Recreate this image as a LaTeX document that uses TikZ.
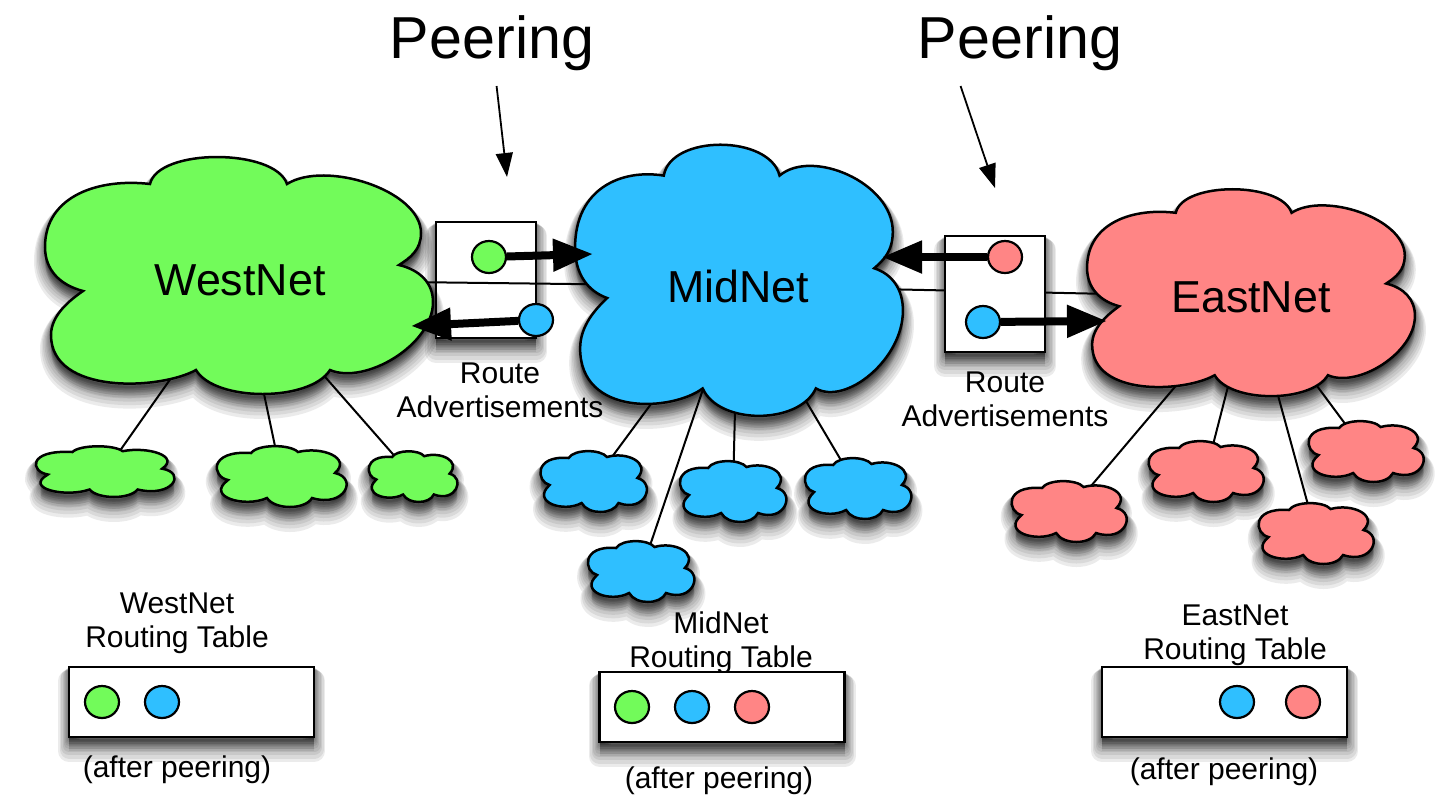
\documentclass[tikz,border=0pt]{standalone}
\usepackage{fontspec}
\setmainfont{Liberation Sans}
\usetikzlibrary{arrows.meta,shapes.geometric}
\pgfdeclarelayer{boxes}
\pgfdeclarelayer{links}
\pgfsetlayers{boxes,links,main}
\definecolor{westgreen}{HTML}{72FB5A}
\definecolor{midblue}{HTML}{2FBFFF}
\definecolor{eastred}{HTML}{FF8585}
\tikzset{
  softlayer/.style 2 args={preaction={draw=black,fill=black,opacity=0.08,line width=#1,line join=round,transform canvas={yshift=#2}}},
  softshadow/.style={softlayer={11pt}{-7pt},softlayer={9.5pt}{-6pt},softlayer={8pt}{-5pt},softlayer={6.5pt}{-4.2pt},softlayer={5pt}{-3.4pt},softlayer={4pt}{-2.6pt},softlayer={3pt}{-2pt},softlayer={2pt}{-1.4pt},softlayer={1pt}{-0.8pt}},
  cloudline/.style={draw=black,line width=1.25pt,line join=miter,softshadow},
  netname/.style={font=\fontsize{22.4}{26}\selectfont,inner sep=0pt},
  peername/.style={font=\fontsize{29.6}{34}\selectfont,inner sep=0pt},
  caption/.style={font=\fontsize{15}{17}\selectfont,align=center,inner sep=0pt},
  peerbox/.style={draw=black,fill=white,line width=1.25pt,minimum width=50pt,minimum height=58pt,inner sep=0pt,softshadow},
  tablebox/.style={draw=black,fill=white,line width=1.25pt,minimum width=122.5pt,minimum height=35pt,inner sep=0pt,softshadow},
  route/.style={ellipse,draw=black,line width=1.1pt,minimum width=17pt,minimum height=16pt,inner sep=0pt},
  link/.style={draw=black,line width=1pt},
  fatarrow/.style={draw=black,line width=4pt,-{Triangle[length=20pt,width=15.5pt]}},
  peerarrow/.style={draw=black,line width=0.9pt,-{Triangle[length=12pt,width=8.5pt]}}
}
\newcommand{\bigcloud}[7]{
  \begin{scope}[shift={#3},xscale=#4,yscale=#5,shift={(-239,-277)}]
  \draw[cloudline,fill=#6] (150,184) .. controls (158,148) and (275,148) .. (287,184)
    .. controls (325,160) and (421,190) .. (421,233)
    .. controls (421,250) and (410,258) .. (399,265)
    .. controls (420,270) and (433,283) .. (433,302)
    .. controls (433,345) and (365,385) .. (330,370)
    .. controls (310,402) and (215,402) .. (196,370)
    .. controls (160,390) and (51,395) .. (51,335)
    .. controls (51,315) and (70,300) .. (83,291)
    .. controls (60,285) and (45,270) .. (45,247)
    .. controls (45,195) and (100,178) .. (150,184) -- cycle;
  \end{scope}
  \node[netname] (#1) at #2 {#7};
}
\newcommand{\smallcloud}[5]{
  \begin{scope}[shift={#2},xscale=#3,yscale=#4,shift={(-281.5,-477)}]
  \draw[cloudline,fill=#5] (251,453) .. controls (258,444) and (290,444) .. (298,452)
    .. controls (322,446) and (352,458) .. (335,473)
    .. controls (358,478) and (345,508) .. (312,498)
    .. controls (305,510) and (275,510) .. (267,498)
    .. controls (245,508) and (205,497) .. (228,480)
    .. controls (212,477) and (208,450) .. (251,453) -- cycle;
  \end{scope}
  \node[inner sep=0pt,minimum size=10pt] (#1) at #2 {};
}
\begin{document}
\begin{tikzpicture}[x=0.5pt,y=-0.5pt]
\useasboundingbox (0,0) rectangle (1456,794);
\begin{pgfonlayer}{boxes}
\node[peerbox] (westbox) at (486,280) {};
\end{pgfonlayer}
\bigcloud{west}{(240,280)}{(239,277)}{1}{1}{westgreen}{WestNet}
\bigcloud{mid}{(738,286)}{(739,282)}{0.845}{1.144}{midblue}{MidNet}
\bigcloud{east}{(1251,297)}{(1251,294)}{0.845}{0.873}{eastred}{EastNet}
\smallcloud{westa}{(105,472)}{1.068}{0.833}{westgreen}
\smallcloud{westb}{(281.5,477)}{1}{1}{westgreen}
\smallcloud{westc}{(413,477)}{0.684}{0.833}{westgreen}
\smallcloud{mida}{(593.5,482)}{0.82}{1}{midblue}
\smallcloud{midb}{(733,492)}{0.82}{1}{midblue}
\smallcloud{midc}{(858,489)}{0.82}{1}{midblue}
\smallcloud{midd}{(641,572)}{0.82}{1}{midblue}
\smallcloud{easta}{(1069,512)}{0.887}{1}{eastred}
\smallcloud{eastb}{(1206,472)}{0.887}{1}{eastred}
\smallcloud{eastc}{(1366,452)}{0.887}{1}{eastred}
\smallcloud{eastd}{(1316,534)}{0.887}{1}{eastred}
\begin{pgfonlayer}{links}
\draw[link] (west.center) -- (mid.center);
\draw[link] (mid.center) -- (east.center);
\foreach \kid in {westa,westb,westc} \draw[link] (west.center) -- (\kid.center);
\foreach \kid in {mida,midb,midc,midd} \draw[link] (mid.center) -- (\kid.center);
\foreach \kid in {easta,eastb,eastc,eastd} \draw[link] (east.center) -- (\kid.center);
\end{pgfonlayer}
\node[peerbox] (eastbox) at (995,294) {};
\node[route,fill=westgreen] (boxgreen) at (489,257) {};
\node[route,fill=midblue] (boxblue) at (536,320) {};
\node[route,fill=eastred] (boxred) at (1005,257) {};
\node[route,fill=midblue] (boxbluetwo) at (983,322) {};
\coordinate (greentip) at (593,254);
\coordinate (bluetip) at (411,326);
\coordinate (redtip) at (882,257);
\coordinate (bluetwotip) at (1107,321);
\draw[fatarrow] (boxgreen) -- (greentip);
\draw[fatarrow] (boxblue) -- (bluetip);
\draw[fatarrow] (boxred) -- (redtip);
\draw[fatarrow] (boxbluetwo) -- (bluetwotip);
\node[peername] (peerwest) at (492,43) {Peering};
\node[peername] (peereast) at (1020,43) {Peering};
\coordinate (peerwesttip) at (507,177);
\coordinate (peereasttip) at (995,188);
\draw[peerarrow] ([shift={(107,15)}]peerwest.south west) -- (peerwesttip);
\draw[peerarrow] ([shift={(43,15)}]peereast.south west) -- (peereasttip);
\node[caption] (adwest) at (500,390) {Route\\Advertisements};
\node[caption] (adeast) at (1005,399) {Route\\Advertisements};
\node[caption] (tabwest) at (177,623) {WestNet\\Routing Table};
\node[caption] (tabmid) at (721,643) {MidNet\\Routing Table};
\node[caption] (tabeast) at (1235,635) {EastNet\\Routing Table};
\node[tablebox] (westtable) at (191.5,702) {};
\node[tablebox] (midtable) at (722,707) {};
\node[tablebox] (easttable) at (1224.5,702) {};
\node[route,fill=westgreen] (wta) at (102,702) {};
\node[route,fill=midblue] (wtb) at (162,702) {};
\node[route,fill=westgreen] (mta) at (632,707) {};
\node[route,fill=midblue] (mtb) at (692,707) {};
\node[route,fill=eastred] (mtc) at (752,707) {};
\node[route,fill=midblue] (eta) at (1237,702) {};
\node[route,fill=eastred] (etb) at (1303,702) {};
\node[caption] (afterwest) at (177,770) {(after peering)};
\node[caption] (aftermid) at (719,781) {(after peering)};
\node[caption] (aftereast) at (1224,772) {(after peering)};
\end{tikzpicture}
\end{document}
